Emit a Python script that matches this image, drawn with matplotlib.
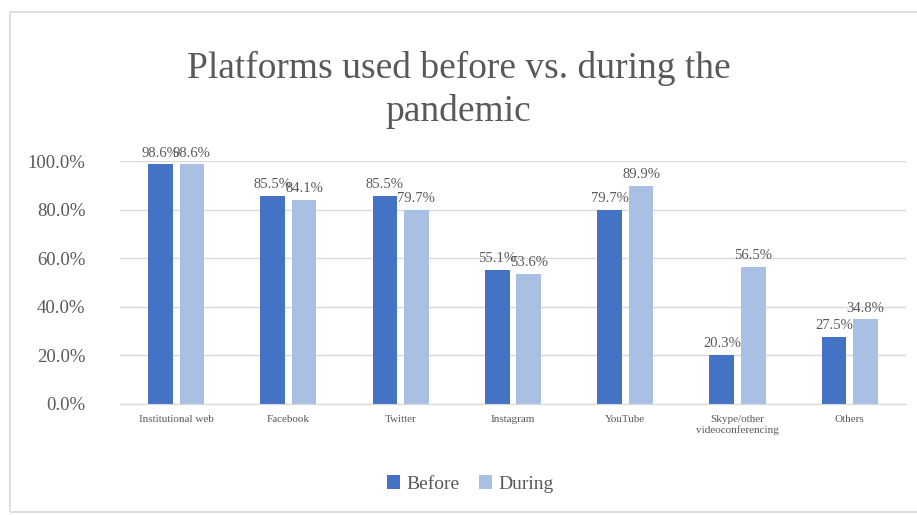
import matplotlib.pyplot as plt
import numpy as np
from matplotlib.patches import Rectangle

categories = ["Institutional web", "Facebook", "Twitter", "Instagram", "YouTube",
              "Skype/other\nvideoconferencing", "Others"]
before = [98.6, 85.5, 85.5, 55.1, 79.7, 20.3, 27.5]
during = [98.6, 84.1, 79.7, 53.6, 89.9, 56.5, 34.8]
yticks = [0, 20, 40, 60, 80, 100]

c_before = "#4472C4"
c_during = "#A9BFE3"
grey = "#595959"

plt.rcParams['font.family'] = ['Liberation Serif', 'DejaVu Serif']

fig = plt.figure(figsize=(9.17, 5.15), dpi=100)
fig.patches.append(Rectangle((10/917, 0.005), 1.0, 1 - 12/515 - 0.005, transform=fig.transFigure,
                             fill=False, edgecolor="#D9D9D9", lw=1.2))

ax = fig.add_axes([120/917, 1 - 404/515, 786/917, (404 - 161)/515])
x = np.arange(len(categories))
w = 0.22
gap = 0.03
b1 = ax.bar(x - w/2 - gap, before, w, color=c_before, label="Before")
b2 = ax.bar(x + w/2 + gap, during, w, color=c_during, label="During")

for rect, v in zip(b1, before):
    ax.text(rect.get_x() + rect.get_width()/2, v + 2, f"{v:.1f}%", ha="center", va="bottom",
            fontsize=10.5, color=grey)
for rect, v in zip(b2, during):
    ax.text(rect.get_x() + rect.get_width()/2, v + 2, f"{v:.1f}%", ha="center", va="bottom",
            fontsize=10.5, color=grey)

ax.set_xlim(-0.5, len(categories) - 0.5)
ax.set_ylim(0, 100)
ax.set_yticks(yticks)
ax.set_yticklabels([f"{t:.1f}%" for t in yticks], fontsize=13.5, color=grey)
ax.set_xticks(x)
ax.set_xticklabels(categories, fontsize=8, color=grey)
ax.tick_params(axis='both', length=0)
ax.tick_params(axis='x', pad=8)
ax.tick_params(axis='y', pad=25)
ax.grid(axis='y', color="#D9D9D9", lw=1)
ax.set_axisbelow(True)
for s in ["top", "right", "left"]:
    ax.spines[s].set_visible(False)
ax.spines["bottom"].set_color("#D9D9D9")

fig.text(0.5, 1 - 90/515, "Platforms used before vs. during the\npandemic", ha="center", va="center",
         fontsize=27, color=grey, linespacing=1.3)

fig.legend(handles=[b1, b2], labels=["Before", "During"], loc="center",
           bbox_to_anchor=(470/917, 1 - 484/515), ncol=2, frameon=False, fontsize=14,
           handlelength=0.7, handleheight=0.7, handletextpad=0.3, columnspacing=1.0,
           labelcolor=grey)

fig.savefig("out.png", dpi=100)
